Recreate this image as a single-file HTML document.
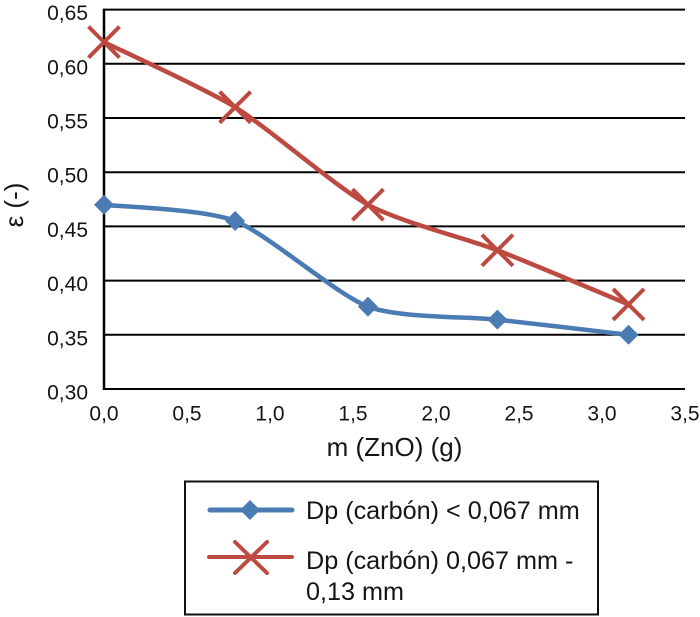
<!DOCTYPE html>
<html lang="es">
<head>
<meta charset="utf-8">
<title>Chart</title>
<style>
html,body{margin:0;padding:0;background:#fff;}
body{width:700px;height:617px;overflow:hidden;}
svg{display:block;}
text{font-family:"Liberation Sans",sans-serif;fill:#151515;}
</style>
</head>
<body>
<svg id="chart" xmlns="http://www.w3.org/2000/svg" width="700" height="617" viewBox="0 0 700 617">
  <g id="grid"></g>
  <g id="ticks"></g>
  <g id="series"></g>
  <text x="394.5" y="456" font-size="26" text-anchor="middle">m (ZnO) (g)</text>
  <text transform="translate(23,205) rotate(-90)" font-size="26" text-anchor="middle">ε (-)</text>
  <g>
    <rect x="185" y="481.5" width="413" height="133" fill="#fff" stroke="#111" stroke-width="2"/>
    <g>
      <line x1="210" y1="510" x2="292" y2="510" stroke="#4a7bb3" stroke-width="5" stroke-linecap="round"/>
      <polygon points="250,500 260,510 250,520 240,510" fill="#4a7bb3"/>
      <text x="306" y="519" font-size="25.2">Dp (carbón) &lt; 0,067 mm</text>
    </g>
    <g>
      <line x1="209" y1="557" x2="292" y2="557" stroke="#bc4a40" stroke-width="4" stroke-linecap="round"/>
      <path d="M235 542L267 573M267 542L235 573" stroke="#bc4a40" stroke-width="4" stroke-linecap="round" fill="none"/>
      <text font-size="25.2">
        <tspan x="306" y="569">Dp (carbón) 0,067 mm -</tspan>
        <tspan x="306" y="600">0,13 mm</tspan>
      </text>
    </g>
  </g>
</svg>
<script>
var xTicks = [0, 0.5, 1, 1.5, 2, 2.5, 3, 3.5];
var xTickLabels = ["0,0", "0,5", "1,0", "1,5", "2,0", "2,5", "3,0", "3,5"];
var yTicks = [0.30, 0.35, 0.40, 0.45, 0.50, 0.55, 0.60, 0.65];
var yTickLabels = ["0,30", "0,35", "0,40", "0,45", "0,50", "0,55", "0,60", "0,65"];
var massValues = [0, 0.79, 1.59, 2.37, 3.16];
var fineSeries = [0.47, 0.455, 0.376, 0.364, 0.35];
var coarseSeries = [0.62, 0.56, 0.47, 0.428, 0.378];

var NS = "http://www.w3.org/2000/svg";
var plotLeft = 104, plotRight = 685, plotBottom = 389, plotTop = 9.6;
var smoothing = 8.5;
function xScale(v) { return plotLeft + (v - 0) / (3.5 - 0) * (plotRight - plotLeft); }
function yScale(v) { return plotBottom - (v - 0.30) / (0.65 - 0.30) * (plotBottom - plotTop); }
function make(tag, attrs, parent) {
  var el = document.createElementNS(NS, tag);
  for (var k in attrs) { el.setAttribute(k, attrs[k]); }
  parent.appendChild(el);
  return el;
}
function smoothPath(xs, ys) {
  var pts = xs.map(function (x, i) { return [xScale(x), yScale(ys[i])]; });
  var d = "M" + pts[0][0] + " " + pts[0][1];
  for (var i = 0; i < pts.length - 1; i++) {
    var p0 = pts[Math.max(i - 1, 0)], p1 = pts[i], p2 = pts[i + 1], p3 = pts[Math.min(i + 2, pts.length - 1)];
    var c1x = p1[0] + (p2[0] - p0[0]) / smoothing, c1y = p1[1] + (p2[1] - p0[1]) / smoothing;
    var c2x = p2[0] - (p3[0] - p1[0]) / smoothing, c2y = p2[1] - (p3[1] - p1[1]) / smoothing;
    d += "C" + c1x + " " + c1y + " " + c2x + " " + c2y + " " + p2[0] + " " + p2[1];
  }
  return d;
}

var gridG = document.getElementById("grid");
var ticksG = document.getElementById("ticks");
var seriesG = document.getElementById("series");

yTicks.forEach(function (v, i) {
  var line = make("line", { x1: plotLeft, x2: plotRight, y1: yScale(v), y2: yScale(v), stroke: "#000", "stroke-width": 2 }, gridG);
  
  
  var label = make("text", { x: 88, y: yScale(v) + 10.5, "font-size": 21, "text-anchor": "end" }, ticksG);
  
  
  label.textContent = yTickLabels[i];
});

var yAxis = make("line", { x1: plotLeft, x2: plotLeft, y1: yScale(0.65) - 1, y2: plotBottom + 1, stroke: "#000", "stroke-width": 2.5 }, gridG);



xTicks.forEach(function (v, i) {
  var label = make("text", { x: xScale(v), y: 420.5, "font-size": 21, "text-anchor": "middle" }, ticksG);
  
  
  label.textContent = xTickLabels[i];
});

var fineLine = make("path", { d: smoothPath(massValues, fineSeries), fill: "none", stroke: "#4a7bb3", "stroke-width": 4.5, "stroke-linecap": "round" }, seriesG);



var coarseLine = make("path", { d: smoothPath(massValues, coarseSeries), fill: "none", stroke: "#bc4a40", "stroke-width": 4.5, "stroke-linecap": "round" }, seriesG);



massValues.forEach(function (m, i) {
  var cx = xScale(m), cy = yScale(fineSeries[i]), r = 10;
  var diamond = make("polygon", { points: cx + "," + (cy - r) + " " + (cx + r) + "," + cy + " " + cx + "," + (cy + r) + " " + (cx - r) + "," + cy, fill: "#4a7bb3" }, seriesG);
  
  
});

massValues.forEach(function (m, i) {
  var cx = xScale(m), cy = yScale(coarseSeries[i]), r = 15.5;
  var cross = make("path", { d: "M" + (cx - r) + " " + (cy - r) + "L" + (cx + r) + " " + (cy + r) + "M" + (cx + r) + " " + (cy - r) + "L" + (cx - r) + " " + (cy + r), fill: "none", stroke: "#bc4a40", "stroke-width": 4 }, seriesG);
  
  
});
</script>
</body>
</html>
